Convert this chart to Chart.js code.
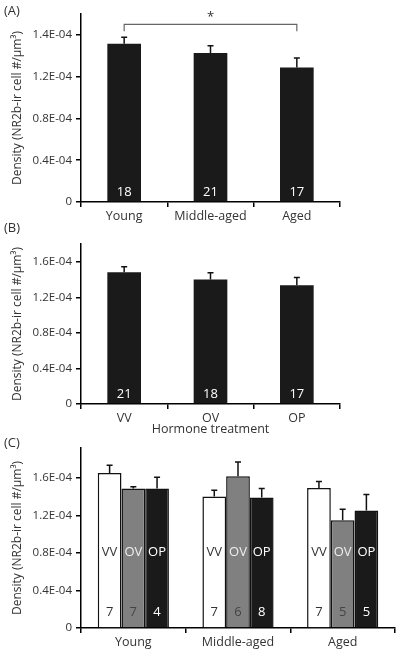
<!DOCTYPE html>
<html>
<head>
<meta charset="utf-8">
<script src="https://cdn.jsdelivr.net/npm/chart.js@4.4.1/dist/chart.umd.min.js"></script>
<style>
    body { margin: 0; background: #fff; }
    #wrap { position: relative; width: 400px; height: 650px; font-family: 'Open Sans', sans-serif; color: #333; }
    .panel { position: absolute; left: 0; width: 400px; }
    .tag { position: absolute; left: 4px; font-size: 13px; line-height: 18px; }
</style>
</head>
<body>
<div id="wrap">
    <div class="panel" style="top:0;height:225px"><canvas id="chartA" width="400" height="225"></canvas></div>
    <div class="panel" style="top:225px;height:212px"><canvas id="chartB" width="400" height="212"></canvas></div>
    <div class="panel" style="top:437px;height:213px"><canvas id="chartC" width="400" height="213"></canvas></div>
    <div class="tag" style="top:1px">(A)</div>
    <div class="tag" style="top:218px">(B)</div>
    <div class="tag" style="top:433px">(C)</div>
</div>
<script>
// Panel A: by age
var ageGroups = ['Young', 'Middle-aged', 'Aged'];
var densityByAge = [1.516e-4, 1.426e-4, 1.288e-4];
var semByAge = [0.061e-4, 0.071e-4, 0.090e-4];
var nByAge = [18, 21, 17];

// Panel B: by hormone treatment
var treatments = ['VV', 'OV', 'OP'];
var densityByTreatment = [1.483e-4, 1.400e-4, 1.336e-4];
var semByTreatment = [0.061e-4, 0.076e-4, 0.088e-4];
var nByTreatment = [21, 18, 17];

// Panel C: age x treatment
var vvDensity = [1.652e-4, 1.401e-4, 1.493e-4];
var vvSem = [0.082e-4, 0.067e-4, 0.068e-4];
var vvN = [7, 7, 7];
var ovDensity = [1.486e-4, 1.617e-4, 1.149e-4];
var ovSem = [0.021e-4, 0.152e-4, 0.117e-4];
var ovN = [7, 6, 5];
var opDensity = [1.486e-4, 1.390e-4, 1.252e-4];
var opSem = [0.120e-4, 0.096e-4, 0.170e-4];
var opN = [4, 8, 5];

// y ticks (panel A labels as printed in the figure)
var tickValues = [0, 0.4e-4, 0.8e-4, 1.2e-4, 1.6e-4];
var tickLabelsA = ['0', '0.4E-04', '0.8E-04', '1.2E-04', '1.4E-04'];
var tickLabelsBC = ['0', '0.4E-04', '0.8E-04', '1.2E-04', '1.6E-04'];

var FONT = "'Open Sans', sans-serif";
var yTitle = 'Density (NR2b-ir cell #/\u03bcm\u00b3)';

var errorBars = {
    id: 'errorBars',
    afterDatasetsDraw: function (chart) {
        var ctx = chart.ctx, y = chart.scales.y;
        chart.data.datasets.forEach(function (ds, i) {
            if (!ds.sem) { return; }
            chart.getDatasetMeta(i).data.forEach(function (bar, j) {
                var top = y.getPixelForValue(ds.data[j] + ds.sem[j]);
                ctx.save();
                ctx.strokeStyle = '#111';
                ctx.lineWidth = 1.5;
                ctx.beginPath();
                ctx.moveTo(bar.x, bar.y);
                ctx.lineTo(bar.x, top);
                ctx.moveTo(bar.x - 3, top);
                ctx.lineTo(bar.x + 3, top);
                ctx.stroke();
                ctx.restore();
            });
        });
    }
};

var barText = {
    id: 'barText',
    afterDatasetsDraw: function (chart, args, opts) {
        var ctx = chart.ctx, bottom = chart.scales.y.bottom;
        ctx.save();
        ctx.textAlign = 'center';
        ctx.textBaseline = 'middle';
        chart.data.datasets.forEach(function (ds, i) {
            chart.getDatasetMeta(i).data.forEach(function (bar, j) {
                ctx.font = '13px ' + FONT;
                if (ds.inner) {
                    ctx.fillStyle = ds.innerColor;
                    ctx.fillText(ds.inner, bar.x, bottom - opts.innerOffset);
                }
                ctx.fillStyle = ds.countColor;
                ctx.fillText(String(ds.counts[j]), bar.x, bottom - opts.countOffset);
            });
        });
        ctx.restore();
    }
};

var bracket = {
    id: 'bracket',
    afterDraw: function (chart, args, opts) {
        if (!opts.show) { return; }
        var ctx = chart.ctx, x = chart.scales.x, y = chart.scales.y;
        var x0 = x.getPixelForValue(0), x1 = x.getPixelForValue(2);
        var yl = y.getPixelForValue(opts.level), yd = y.getPixelForValue(opts.drop);
        ctx.save();
        ctx.strokeStyle = '#666';
        ctx.lineWidth = 1.2;
        ctx.beginPath();
        ctx.moveTo(x0, yd); ctx.lineTo(x0, yl); ctx.lineTo(x1, yl); ctx.lineTo(x1, yd);
        ctx.stroke();
        ctx.fillStyle = '#333';
        ctx.font = '13px ' + FONT;
        ctx.textAlign = 'center';
        ctx.textBaseline = 'middle';
        ctx.fillText('*', (x0 + x1) / 2, yl - 7);
        ctx.restore();
    }
};

function makeChart(id, o) {
    return new Chart(document.getElementById(id), {
        type: 'bar',
        data: { labels: o.labels, datasets: o.datasets },
        plugins: [errorBars, barText, bracket],
        options: {
            responsive: false,
            animation: false,
            layout: { padding: { top: o.top, right: o.right, left: 0, bottom: 0 } },
            datasets: { bar: { categoryPercentage: o.catPct, barPercentage: o.barPct } },
            plugins: {
                legend: { display: false },
                tooltip: { enabled: false },
                barText: { innerOffset: 76, countOffset: o.countOffset },
                bracket: o.bracket || { show: false }
            },
            scales: {
                x: {
                    afterFit: function (s) { s.height = o.xHeight; },
                    grid: { display: true, drawOnChartArea: false, offset: true, tickLength: 5, color: '#000', lineWidth: 1.5 },
                    border: { display: true, color: '#000', width: 1.5 },
                    ticks: { color: '#333', padding: 2, font: { family: FONT, size: 12.5 } },
                    title: o.xTitle ? { display: true, text: o.xTitle, color: '#333', padding: { top: 0, bottom: 0 }, font: { family: FONT, size: 12.5 } } : { display: false }
                },
                y: {
                    min: 0,
                    max: o.max,
                    afterFit: function (s) { s.width = 81; },
                    afterBuildTicks: function (s) { s.ticks = tickValues.map(function (v) { return { value: v }; }); },
                    grid: { display: true, drawOnChartArea: false, tickLength: 5, color: '#000', lineWidth: 1.5 },
                    border: { display: true, color: '#000', width: 1.5 },
                    ticks: {
                        color: '#333', padding: 4, font: { family: FONT, size: 11.5 },
                        callback: function (v, i) { return o.tickLabels[i]; }
                    },
                    title: { display: true, text: yTitle, color: '#333', padding: { top: 10, bottom: 0 }, font: { family: FONT, size: 12 } }
                }
            }
        }
    });
}

makeChart('chartA', {
    labels: ageGroups,
    datasets: [{ data: densityByAge, sem: semByAge, counts: nByAge, countColor: '#fff', backgroundColor: '#1a1a1a' }],
    top: 14, right: 60, xHeight: 23, max: 1.8e-4, catPct: 1, barPct: 0.39, countOffset: 10,
    tickLabels: tickLabelsA,
    bracket: { show: true, level: 1.70e-4, drop: 1.635e-4 }
});

makeChart('chartB', {
    labels: treatments,
    datasets: [{ data: densityByTreatment, sem: semByTreatment, counts: nByTreatment, countColor: '#fff', backgroundColor: '#1a1a1a' }],
    top: 19, right: 60, xHeight: 33, max: 1.8e-4, catPct: 1, barPct: 0.39, countOffset: 10,
    tickLabels: tickLabelsBC, xTitle: 'Hormone treatment'
});

makeChart('chartC', {
    labels: ageGroups,
    datasets: [
        { data: vvDensity, sem: vvSem, counts: vvN, inner: 'VV', innerColor: '#333', countColor: '#333',
          backgroundColor: '#fff', borderColor: '#111', borderWidth: 1.5 },
        { data: ovDensity, sem: ovSem, counts: ovN, inner: 'OV', innerColor: '#eee', countColor: '#444',
          backgroundColor: '#808080', borderColor: '#111', borderWidth: 1.5 },
        { data: opDensity, sem: opSem, counts: opN, inner: 'OP', innerColor: '#fff', countColor: '#fff',
          backgroundColor: '#1a1a1a', borderColor: '#111', borderWidth: 1.5 }
    ],
    top: 10, right: 5, xHeight: 22, max: 1.92e-4, catPct: 0.68, barPct: 1, countOffset: 16,
    tickLabels: tickLabelsBC
});
</script>
</body>
</html>
